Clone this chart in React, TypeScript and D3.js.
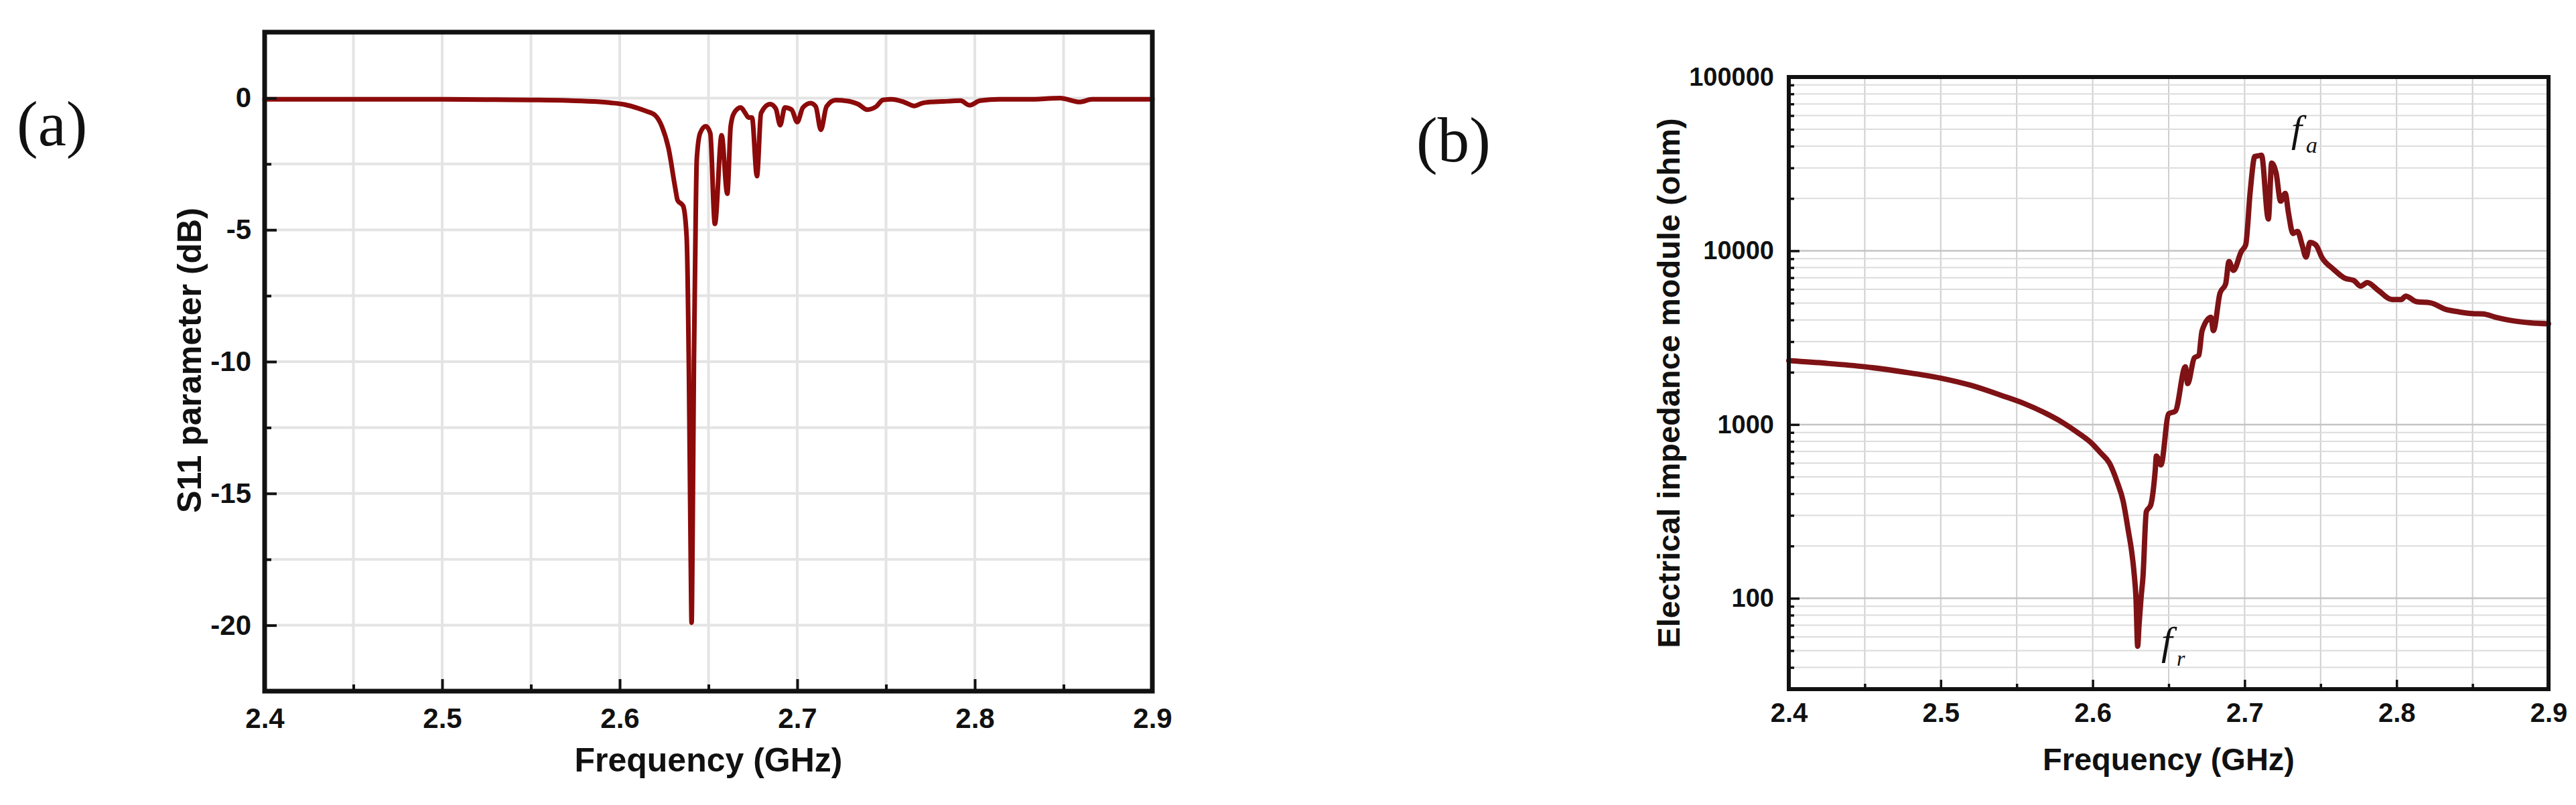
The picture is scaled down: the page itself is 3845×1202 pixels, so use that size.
import React, { useEffect, useRef } from "react";
import * as d3 from "d3";

const W = 3845;
const H = 1202;

// panel (a): S11 reflection
const s11Freq = [
  2.4, 2.45, 2.5, 2.53, 2.55, 2.57, 2.585, 2.595, 2.603, 2.61, 2.615, 2.6199,
  2.6237, 2.6275, 2.6313, 2.6326, 2.6357, 2.6377, 2.639, 2.64, 2.6405, 2.641,
  2.6418, 2.6428, 2.6434, 2.6453, 2.6485, 2.651, 2.6536, 2.6574, 2.6606, 2.6625,
  2.6644, 2.6682, 2.6707, 2.6726, 2.6745, 2.6773, 2.6796, 2.6847, 2.6879, 2.6904,
  2.693, 2.6968, 2.7, 2.7032, 2.7076, 2.7104, 2.7133, 2.7165, 2.7216, 2.728,
  2.7343, 2.7394, 2.7445, 2.7483, 2.753, 2.76, 2.766, 2.77, 2.775, 2.785, 2.792,
  2.797, 2.803, 2.814, 2.83, 2.848, 2.859, 2.866, 2.88, 2.9
];
const s11Db = [
  -0.05, -0.05, -0.05, -0.06, -0.07, -0.09, -0.13, -0.18, -0.25, -0.38, -0.5, -0.65,
  -1.07, -1.91, -3.42, -3.88, -4.09, -5.27, -10.5, -17.5, -19.9, -17,
  -10, -4.5, -2.33, -1.33, -1.07, -1.33, -4.77, -1.41, -3.63, -1.07,
  -0.57, -0.36, -0.57, -0.74, -0.74, -2.96, -0.57, -0.23, -0.4, -1.03,
  -0.36, -0.44, -0.91, -0.36, -0.19, -0.32, -1.2, -0.32, -0.08, -0.11,
  -0.23, -0.44, -0.32, -0.07, -0.05, -0.15, -0.3, -0.2, -0.15, -0.12, -0.1,
  -0.27, -0.1, -0.05, -0.05, 0, -0.15, -0.05, -0.05, -0.05
];

// panel (b): electrical impedance module
const zFreq = [
  2.4, 2.425, 2.45, 2.475, 2.5, 2.52, 2.54, 2.555, 2.57, 2.58, 2.59, 2.6, 2.605,
  2.611, 2.616, 2.62, 2.6236, 2.6255, 2.6272, 2.6285, 2.6296, 2.6305, 2.6318, 2.6331,
  2.6353, 2.6382, 2.6412, 2.6419, 2.6449, 2.65, 2.6544, 2.661, 2.6625, 2.6669,
  2.6698, 2.672, 2.6779, 2.6794, 2.6838, 2.6875, 2.6897, 2.6926, 2.6978, 2.7007,
  2.7037, 2.7067, 2.709, 2.7111, 2.7156, 2.7178, 2.7207, 2.7237, 2.7267, 2.7289,
  2.7318, 2.7348, 2.7378, 2.7404, 2.743, 2.7467, 2.7511, 2.7585, 2.7659, 2.7719,
  2.7763, 2.7807, 2.7881, 2.797, 2.803, 2.806, 2.8133, 2.8222, 2.8326, 2.841, 2.85,
  2.857, 2.865, 2.877, 2.888, 2.9
];
const zOhm = [
  2330, 2250, 2150, 2010, 1850, 1680, 1470, 1320, 1150, 1030, 900, 770, 690,
  600, 470, 364, 240, 190, 141, 100, 53, 70, 100, 133,
  315, 344, 551, 659, 586, 1153, 1195, 2150, 1720, 2420,
  2500, 3470, 4140, 3470, 5710, 6450, 8670, 7710, 9900, 10830,
  22100, 34900, 35200, 35500, 15230, 32000, 28000, 19300, 21400, 16400,
  12570, 12940, 10830, 9200, 11160, 10830, 9070, 7820, 6950, 6740,
  6260, 6550, 5900, 5240, 5240, 5480, 5090, 5020, 4590, 4450, 4350,
  4330, 4150, 3950, 3850, 3800
];

const freqTicks = [2.4, 2.5, 2.6, 2.7, 2.8, 2.9];
const freqMinor = [2.45, 2.55, 2.65, 2.75, 2.85];
const s11Ticks = [0, -5, -10, -15, -20];
const s11Minor = [-2.5, -7.5, -12.5, -17.5];
const zTicks = [100, 1000, 10000, 100000];

const SANS = "'Liberation Sans', Arial, sans-serif";
const SERIF = "'Liberation Serif', 'Times New Roman', serif";

const pa = { left: 395, right: 1720, top: 48, bottom: 1032 };
const pb = { left: 2670, right: 3804, top: 115, bottom: 1029 };

function styleAxis(g, size, width) {
  g.select(".domain").remove();
  g.attr("font-family", SANS).attr("font-size", size).attr("font-weight", "bold");
  g.selectAll("line").attr("stroke", "#111").attr("stroke-width", width);
  g.selectAll("text").attr("fill", "#111");
}

export default function App() {
  const axRef = useRef(null);
  const axmRef = useRef(null);
  const ayRef = useRef(null);
  const aymRef = useRef(null);
  const bxRef = useRef(null);
  const bxmRef = useRef(null);
  const byRef = useRef(null);
  const bymRef = useRef(null);

  const xA = d3.scaleLinear().domain([2.4, 2.9]).range([pa.left, pa.right]);
  const yA = d3.scaleLinear().domain([-22.5, 2.5]).range([pa.bottom, pa.top]);
  const xB = d3.scaleLinear().domain([2.4, 2.9]).range([pb.left, pb.right]);
  const yB = d3.scaleLog().domain([30, 100000]).range([pb.bottom, pb.top]);

  const zMinor = [];
  [10, 100, 1000, 10000].forEach(dec => {
    for (let k = 2; k <= 9; k++) {
      const v = k * dec;
      if (v > 30 && v < 100000) zMinor.push(v);
    }
  });

  const lineA = d3.line()
    .x((d, i) => xA(s11Freq[i]))
    .y(d => yA(d))
    .curve(d3.curveMonotoneX);
  const lineB = d3.line()
    .x((d, i) => xB(zFreq[i]))
    .y(d => yB(d))
    .curve(d3.curveMonotoneX);

  useEffect(() => {
    const fmt = d3.format(".1f");
    const plain = d => String(d); // keeps the ASCII hyphen of the original
    d3.select(axRef.current)
      .call(d3.axisBottom(xA).tickValues(freqTicks).tickSize(-18).tickPadding(25).tickFormat(fmt))
      .call(g => styleAxis(g, 42, 4));
    d3.select(axmRef.current)
      .call(d3.axisBottom(xA).tickValues(freqMinor).tickSize(-10).tickFormat(() => ""))
      .call(g => styleAxis(g, 42, 4));
    d3.select(ayRef.current)
      .call(d3.axisLeft(yA).tickValues(s11Ticks).tickSize(-18).tickPadding(20).tickFormat(plain))
      .call(g => styleAxis(g, 42, 4));
    d3.select(aymRef.current)
      .call(d3.axisLeft(yA).tickValues(s11Minor).tickSize(-10).tickFormat(() => ""))
      .call(g => styleAxis(g, 42, 4));

    d3.select(bxRef.current)
      .call(d3.axisBottom(xB).tickValues(freqTicks).tickSize(-14).tickPadding(21).tickFormat(fmt))
      .call(g => styleAxis(g, 40, 3.5));
    d3.select(bxmRef.current)
      .call(d3.axisBottom(xB).tickValues(freqMinor).tickSize(-8).tickFormat(() => ""))
      .call(g => styleAxis(g, 40, 3.5));
    d3.select(byRef.current)
      .call(d3.axisLeft(yB).tickValues(zTicks).tickSize(-16).tickPadding(22).tickFormat(plain))
      .call(g => styleAxis(g, 38, 3.5));
    d3.select(bymRef.current)
      .call(d3.axisLeft(yB).tickValues(zMinor).tickSize(-8).tickFormat(() => ""))
      .call(g => styleAxis(g, 38, 3.5));
  }, []);

  return (
    <svg width={W} height={H} style={{ position: "absolute", left: 0, top: 0, background: "#fff" }}>
      <rect x={0} y={0} width={W} height={H} fill="#fff" />

      {/* ---------- panel (a) ---------- */}
      <g>
        {freqMinor.concat(freqTicks.slice(1, -1)).map(f => (
          <line key={"agv" + f} x1={xA(f)} x2={xA(f)} y1={pa.top} y2={pa.bottom}
            stroke="#e4e4e4" strokeWidth={4} />
        ))}
        {s11Ticks.concat(s11Minor).map(v => (
          <line key={"agh" + v} x1={pa.left} x2={pa.right} y1={yA(v)} y2={yA(v)}
            stroke="#e4e4e4" strokeWidth={4} />
        ))}
        <path d={lineA(s11Db)} fill="none" stroke="#8c0a0a" strokeWidth={7}
          strokeLinejoin="round" strokeLinecap="round" />
        <rect x={pa.left} y={pa.top} width={pa.right - pa.left} height={pa.bottom - pa.top}
          fill="none" stroke="#111" strokeWidth={7} />
        <g ref={axRef} transform={`translate(0,${pa.bottom})`} />
        <g ref={axmRef} transform={`translate(0,${pa.bottom})`} />
        <g ref={ayRef} transform={`translate(${pa.left},0)`} />
        <g ref={aymRef} transform={`translate(${pa.left},0)`} />
        <text x={25} y={217} fontFamily={SERIF} fontSize={95} fill="#111">(a)</text>
        <text transform="translate(300,538) rotate(-90)" textAnchor="middle"
          fontFamily={SANS} fontWeight="bold" fontSize={50} fill="#111">S11 parameter (dB)</text>
        <text x={(pa.left + pa.right) / 2} y={1152} textAnchor="middle"
          fontFamily={SANS} fontWeight="bold" fontSize={50} fill="#111">Frequency (GHz)</text>
      </g>

      {/* ---------- panel (b) ---------- */}
      <g>
        {freqMinor.concat(freqTicks.slice(1, -1)).map(f => (
          <line key={"bgv" + f} x1={xB(f)} x2={xB(f)} y1={pb.top} y2={pb.bottom}
            stroke="#cfcfcf" strokeWidth={2} />
        ))}
        {zMinor.map(v => (
          <line key={"bgm" + v} x1={pb.left} x2={pb.right} y1={yB(v)} y2={yB(v)}
            stroke="#dcdcdc" strokeWidth={2} />
        ))}
        {zTicks.slice(0, -1).map(v => (
          <line key={"bgM" + v} x1={pb.left} x2={pb.right} y1={yB(v)} y2={yB(v)}
            stroke="#c4c4c4" strokeWidth={2.5} />
        ))}
        <path d={lineB(zOhm)} fill="none" stroke="#7e1215" strokeWidth={8}
          strokeLinejoin="round" strokeLinecap="round" />
        <rect x={pb.left} y={pb.top} width={pb.right - pb.left} height={pb.bottom - pb.top}
          fill="none" stroke="#111" strokeWidth={6} />
        <g ref={bxRef} transform={`translate(0,${pb.bottom})`} />
        <g ref={bxmRef} transform={`translate(0,${pb.bottom})`} />
        <g ref={byRef} transform={`translate(${pb.left},0)`} />
        <g ref={bymRef} transform={`translate(${pb.left},0)`} />
        <text x={2114} y={241} fontFamily={SERIF} fontSize={95} fill="#111">(b)</text>
        <text transform="translate(2507,572) rotate(-90)" textAnchor="middle"
          fontFamily={SANS} fontWeight="bold" fontSize={47} fill="#111">Electrical impedance module (ohm)</text>
        <text x={(pb.left + pb.right) / 2} y={1150} textAnchor="middle"
          fontFamily={SANS} fontWeight="bold" fontSize={47} fill="#111">Frequency (GHz)</text>
        <text x={3420} y={212} fontFamily={SERIF} fontStyle="italic" fontSize={58} fill="#111">f</text>
        <text x={3442} y={228} fontFamily={SERIF} fontStyle="italic" fontSize={34} fill="#111">a</text>
        <text x={3226} y={977} fontFamily={SERIF} fontStyle="italic" fontSize={60} fill="#111">f</text>
        <text x={3249} y={994} fontFamily={SERIF} fontStyle="italic" fontSize={32} fill="#111">r</text>
      </g>
    </svg>
  );
}
